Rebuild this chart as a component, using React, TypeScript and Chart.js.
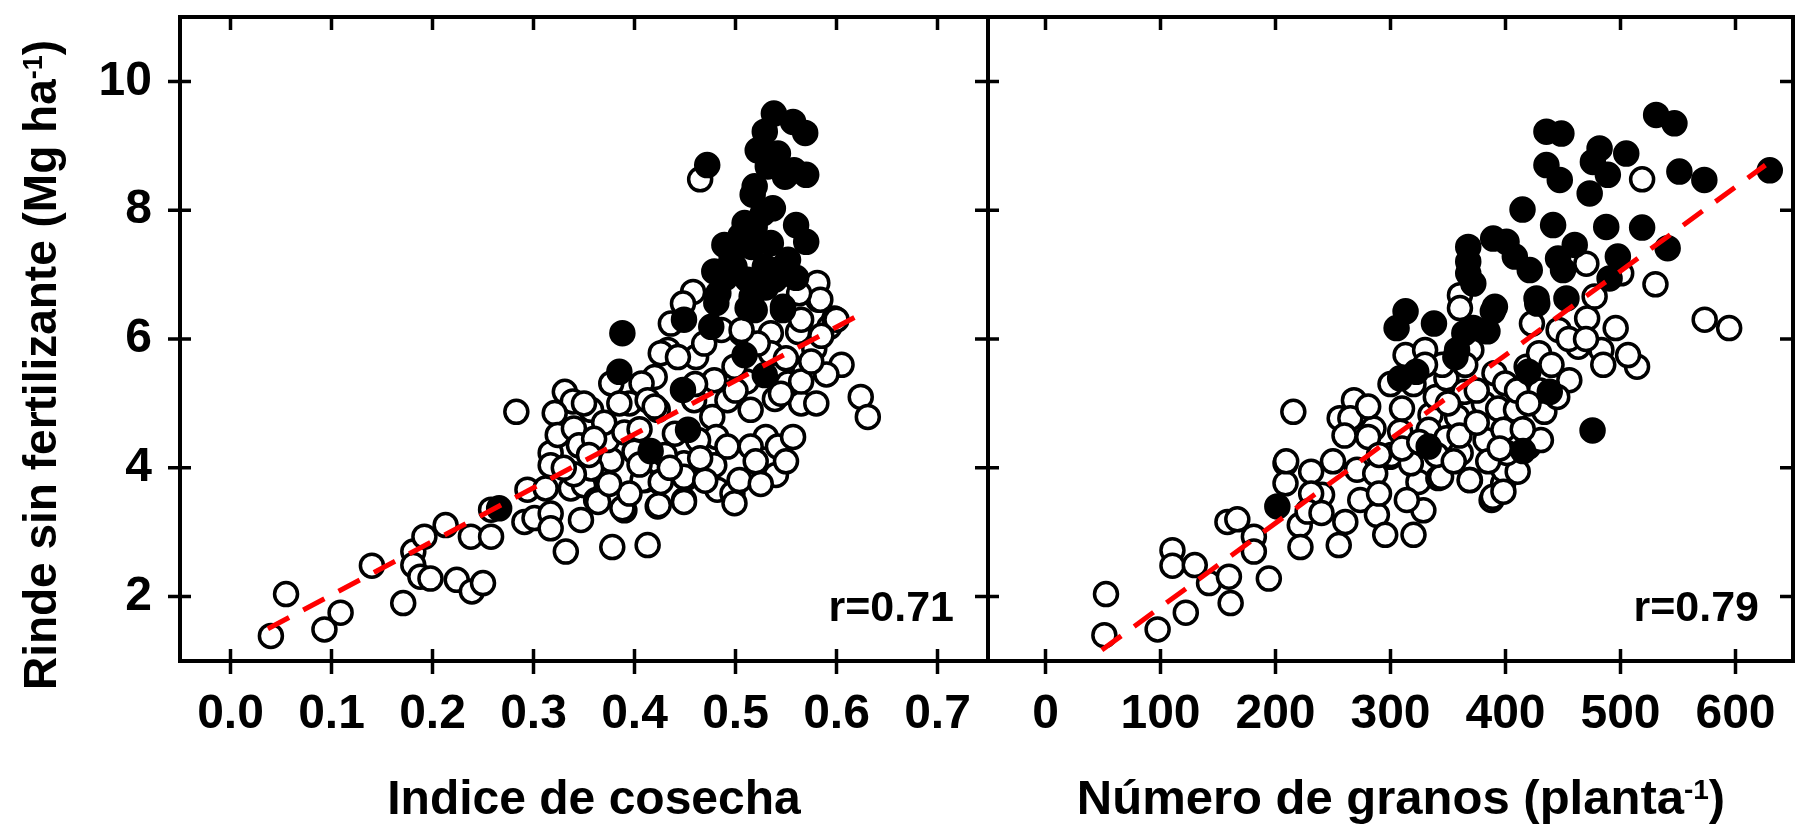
import React, { useEffect, useRef } from 'react';
import { Chart, registerables } from 'chart.js';

Chart.register(...registerables);

const FONT = '"Liberation Sans", Arial, Helvetica, sans-serif';

// ---- tick values ----
const yTicks = [2, 4, 6, 8, 10];
const ihTicks = [0, 0.1, 0.2, 0.3, 0.4, 0.5, 0.6, 0.7];
const ngTicks = [0, 100, 200, 300, 400, 500, 600];

// ---- labels ----
const yTitleMain = 'Rinde sin fertilizante (Mg ha';
const ihTitle = 'Indice de cosecha';
const ngTitleMain = 'Número de granos (planta';
const supText = '-1';
const ihR = 'r=0.71';
const ngR = 'r=0.79';

// ---- Indice de cosecha panel: open circles [x, y] ----
const ihOpen: number[][] = [
  [0.040, 1.39], [0.055, 2.04], [0.093, 1.49], [0.109, 1.75], [0.140, 2.48], [0.171, 1.90],
  [0.181, 2.70], [0.192, 2.93], [0.181, 2.49], [0.188, 2.31], [0.198, 2.28], [0.213, 3.11],
  [0.224, 2.26], [0.239, 2.08], [0.250, 2.21], [0.238, 2.93], [0.258, 2.93], [0.258, 3.35],
  [0.291, 3.16], [0.294, 3.66], [0.301, 3.22], [0.312, 3.68], [0.317, 3.29], [0.317, 3.06],
  [0.317, 4.23], [0.317, 4.04], [0.332, 2.70], [0.337, 3.68], [0.347, 3.19], [0.350, 3.73],
  [0.362, 3.50], [0.364, 3.97], [0.378, 2.77], [0.377, 4.12], [0.390, 3.34], [0.410, 3.81],
  [0.413, 2.80], [0.423, 3.40], [0.425, 3.78], [0.449, 3.50], [0.451, 3.84],
  [0.283, 4.87], [0.331, 5.18], [0.339, 5.03], [0.321, 4.85], [0.324, 4.51], [0.340, 4.61],
  [0.357, 4.90], [0.373, 4.43], [0.377, 5.31], [0.395, 5.00], [0.357, 3.99], [0.364, 3.47],
  [0.388, 3.37], [0.408, 3.81], [0.426, 3.78], [0.420, 5.41], [0.423, 4.90], [0.433, 5.83],
  [0.436, 6.24], [0.461, 5.72], [0.479, 5.36], [0.477, 4.79], [0.481, 4.48], [0.449, 4.07],
  [0.449, 3.86], [0.449, 3.47], [0.424, 3.42], [0.479, 4.04], [0.482, 3.66], [0.497, 3.60],
  [0.499, 3.45], [0.504, 3.81], [0.506, 6.09], [0.515, 4.90], [0.511, 5.34], [0.530, 4.48],
  [0.540, 3.89], [0.542, 4.33], [0.552, 5.31], [0.557, 4.48], [0.565, 5.00], [0.568, 5.49],
  [0.578, 5.85], [0.593, 6.19], [0.598, 6.32], [0.605, 5.60], [0.624, 5.10], [0.631, 4.79],
  [0.535, 6.09], [0.562, 6.11], [0.582, 6.61], [0.426, 5.78], [0.443, 5.72], [0.407, 5.31],
  [0.413, 5.05], [0.440, 4.53], [0.463, 4.43], [0.492, 4.33], [0.515, 4.33], [0.459, 5.05],
  [0.492, 5.05], [0.539, 5.07], [0.499, 5.57], [0.565, 5.34], [0.535, 5.78], [0.522, 5.93],
  [0.469, 5.93], [0.486, 6.14], [0.458, 6.73], [0.448, 6.55], [0.581, 6.87], [0.584, 6.61],
  [0.563, 6.71], [0.600, 6.30], [0.565, 6.30], [0.506, 6.14], [0.465, 8.48],
  [0.345, 4.35], [0.370, 4.70], [0.390, 4.55], [0.400, 4.25], [0.360, 4.45], [0.385, 5.00],
  [0.405, 4.60], [0.350, 5.00], [0.395, 3.60], [0.340, 3.90], [0.430, 4.20], [0.470, 3.80],
  [0.520, 4.10], [0.550, 4.10], [0.580, 5.00], [0.590, 5.45], [0.550, 5.70], [0.500, 5.20],
  [0.460, 5.30], [0.420, 4.95], [0.330, 4.00], [0.355, 4.20], [0.375, 3.75], [0.405, 4.05],
  [0.435, 4.00], [0.465, 4.15], [0.525, 3.75], [0.545, 5.15], [0.575, 5.65], [0.585, 6.05],
];

// ---- Indice de cosecha panel: filled circles [x, y] ----
const ihFilled: number[][] = [
  [0.266, 3.37], [0.416, 4.26], [0.388, 6.09], [0.385, 5.49], [0.449, 6.30], [0.476, 6.19],
  [0.512, 6.48], [0.547, 6.45], [0.509, 5.75], [0.529, 5.44], [0.448, 5.21], [0.453, 4.59],
  [0.481, 6.56], [0.538, 9.50], [0.557, 9.37], [0.569, 9.20], [0.529, 9.22], [0.522, 8.93],
  [0.542, 8.88], [0.558, 8.62], [0.570, 8.55], [0.549, 8.52], [0.532, 8.68], [0.472, 8.70],
  [0.519, 8.37], [0.517, 8.24], [0.537, 8.03], [0.560, 7.77], [0.570, 7.51], [0.509, 7.80],
  [0.519, 7.74], [0.489, 7.46], [0.499, 7.43], [0.516, 7.43], [0.535, 7.49], [0.552, 7.23],
  [0.479, 7.05], [0.499, 7.12], [0.529, 7.12], [0.512, 6.92], [0.539, 6.92], [0.483, 6.71],
  [0.516, 6.66], [0.547, 6.50], [0.519, 6.45], [0.496, 7.23], [0.505, 7.60], [0.527, 7.95],
  [0.545, 7.10], [0.490, 6.95], [0.530, 6.80], [0.560, 6.95],
];

// ---- Número de granos panel: open circles [x, y] ----
const ngOpen: number[][] = [
  [51.2, 1.40], [52.6, 2.04], [97.5, 1.49], [122, 1.75], [110.4, 2.72], [110.4, 2.48],
  [129.8, 2.49], [142.2, 2.21], [159.5, 2.31], [161, 1.90], [158.2, 3.16], [166.8, 3.20],
  [181.2, 2.93], [181.2, 2.70], [194.2, 2.28], [208.7, 4.07], [208.7, 3.76], [221.1, 3.11],
  [221.7, 2.77], [231, 3.94], [230.4, 3.34], [240.5, 3.58], [255, 2.80], [260.7, 3.16],
  [270.9, 3.97], [273.7, 3.50], [288.2, 3.27], [295.4, 2.96], [320, 2.96], [328.6, 3.34],
  [324.3, 3.78], [314.2, 3.50], [299.7, 4.17], [341.6, 3.84], [369.1, 3.81], [387.9, 3.50],
  [398, 3.76], [215.5, 4.87], [268.2, 5.05], [255.8, 4.77], [265.1, 4.77], [209.3, 4.10],
  [231, 3.60], [227.9, 3.32], [286.7, 3.91], [285.2, 4.61], [280.6, 4.48], [280.6, 4.95],
  [300.7, 4.20], [308.4, 4.56], [310, 4.92], [313.1, 5.75], [330.1, 5.83], [317.7, 4.07],
  [334.8, 4.82], [333.2, 4.59], [339.4, 5.10], [348.6, 5.39], [348.6, 4.46], [344, 3.86],
  [357.9, 4.79], [361, 4.23], [368.8, 3.81], [381.2, 5.00], [382.7, 4.43], [390.4, 5.47],
  [393.6, 4.92], [398.2, 4.59], [399.8, 5.31], [398.2, 3.97], [389, 3.55], [398.2, 3.63],
  [409.1, 4.90], [410.6, 3.94], [419.9, 4.33], [430.8, 4.43], [433.8, 4.87], [423, 6.24],
  [446.2, 6.14], [455.5, 5.36], [471, 6.32], [463.3, 5.88], [483.4, 5.83], [485, 5.60],
  [495.8, 6.17], [514.4, 5.57], [506.6, 5.75], [573.2, 6.30], [418.4, 5.57], [429.2, 5.78],
  [370.3, 5.83], [364.2, 5.18], [401.3, 4.23], [518.8, 8.48], [470.3, 7.17], [500.6, 7.02],
  [530.4, 6.85], [594.5, 6.17], [360.4, 6.68], [360.4, 6.48], [477.5, 6.66],
  [300, 5.30], [320, 5.30], [350, 5.00], [375, 5.20], [360, 4.50], [340, 4.20], [310, 4.30],
  [290, 4.20], [385, 4.10], [415, 4.60], [430, 5.20], [440, 5.60], [455, 6.00], [365, 5.60],
  [345, 5.60], [410, 5.20], [250, 4.10], [240, 3.30], [260, 4.50], [325, 4.40], [355, 4.10],
  [375, 4.70], [395, 4.30], [420, 5.00], [445, 5.10], [470, 6.00], [330, 5.60], [290, 3.60],
];

// ---- Número de granos panel: filled circles [x, y] ----
const ngFilled: number[][] = [
  [475.7, 4.58], [415.3, 4.26], [333.2, 4.33], [201.6, 3.40], [356.4, 5.72], [308.4, 5.39],
  [322.4, 5.49], [357.9, 5.83], [419.9, 5.49], [438.5, 5.18], [305.3, 6.17], [313.1, 6.43],
  [337.8, 6.24], [364.2, 6.09], [389, 6.43], [384.3, 6.12], [427.6, 6.55], [531, 9.48],
  [546.9, 9.35], [435.6, 9.22], [448.6, 9.19], [481.8, 8.96], [505, 8.88], [476, 8.75],
  [489, 8.55], [435.6, 8.70], [447.2, 8.47], [473.2, 8.26], [551.2, 8.60], [572.9, 8.47],
  [629.8, 8.62], [414.8, 8.01], [441.4, 7.77], [487.6, 7.74], [518.8, 7.73], [541, 7.41],
  [367.6, 7.43], [389.3, 7.56], [400.9, 7.51], [408.1, 7.28], [460.2, 7.46], [445.7, 7.25],
  [497.7, 7.28], [367.6, 7.20], [367.6, 7.02], [372, 6.86], [421.1, 7.07], [450, 7.07],
  [490.5, 6.94], [427, 6.63], [453, 6.63], [390.8, 6.50], [372, 6.17],
];

// ---- regression lines (end points) ----
const ihLine: number[][] = [[0.037, 1.50], [0.627, 6.41]];
const ngLine: number[][] = [[49, 1.17], [626, 8.70]];

const toXY = (arr: number[][]) => arr.map(([x, y]) => ({ x, y }));

type PanelCfg = {
  xMin: number;
  xMax: number;
  xTicks: number[];
  fmt: (v: number) => string;
  open: number[][];
  filled: number[][];
  line: number[][];
  isLeft: boolean;
  rText: string;
};

function drawRich(
  ctx: CanvasRenderingContext2D,
  parts: { t: string; size: number; dy: number }[],
  cx: number,
  baseY: number
) {
  let total = 0;
  for (const p of parts) {
    ctx.font = `bold ${p.size}px ${FONT}`;
    total += ctx.measureText(p.t).width;
  }
  let x = cx - total / 2;
  ctx.textAlign = 'left';
  ctx.textBaseline = 'alphabetic';
  for (const p of parts) {
    ctx.font = `bold ${p.size}px ${FONT}`;
    ctx.fillText(p.t, x, baseY + p.dy);
    x += ctx.measureText(p.t).width;
  }
}

function makePlugin(cfg: PanelCfg) {
  return {
    id: 'frameAndText',
    afterDraw(chart: any) {
      const ctx: CanvasRenderingContext2D = chart.ctx;
      const { left, right, top, bottom } = chart.chartArea;
      const xs = chart.scales.x;
      const ys = chart.scales.y;
      ctx.save();
      ctx.strokeStyle = '#000';
      ctx.fillStyle = '#000';
      ctx.lineWidth = 4;
      ctx.lineCap = 'butt';
      ctx.strokeRect(left, top, right - left, bottom - top);
      ctx.lineWidth = 3.5;
      ctx.beginPath();
      for (const v of cfg.xTicks) {
        const px = xs.getPixelForValue(v);
        ctx.moveTo(px, bottom - 12);
        ctx.lineTo(px, bottom + 13);
        ctx.moveTo(px, top);
        ctx.lineTo(px, top + 13);
      }
      for (const v of yTicks) {
        const py = ys.getPixelForValue(v);
        if (cfg.isLeft) {
          ctx.moveTo(left - 12, py);
          ctx.lineTo(left + 11, py);
        } else {
          ctx.moveTo(left, py);
          ctx.lineTo(left + 11, py);
        }
        ctx.moveTo(right - 13, py);
        ctx.lineTo(right, py);
      }
      ctx.stroke();

      // r label
      ctx.font = `bold 43px ${FONT}`;
      ctx.textAlign = 'right';
      ctx.textBaseline = 'alphabetic';
      ctx.fillText(cfg.rText, right - 34, 621);

      // axis titles
      if (cfg.isLeft) {
        drawRich(ctx, [{ t: ihTitle, size: 48, dy: 0 }], 594, 814);
        ctx.save();
        ctx.translate(40, 365);
        ctx.rotate(-Math.PI / 2);
        drawRich(
          ctx,
          [
            { t: yTitleMain, size: 46, dy: 0 },
            { t: supText, size: 27, dy: -14 },
            { t: ')', size: 46, dy: 0 },
          ],
          0,
          16
        );
        ctx.restore();
      } else {
        drawRich(
          ctx,
          [
            { t: ngTitleMain, size: 49, dy: 0 },
            { t: supText, size: 28, dy: -15 },
            { t: ')', size: 49, dy: 0 },
          ],
          1401 - 982,
          814
        );
      }
      ctx.restore();
    },
  };
}

const zeroPad = (s: any) => {
  s.paddingTop = 0;
  s.paddingBottom = 0;
  s.paddingLeft = 0;
  s.paddingRight = 0;
};

function Panel({ cfg, left, width }: { cfg: PanelCfg; left: number; width: number }) {
  const ref = useRef<HTMLCanvasElement | null>(null);
  useEffect(() => {
    if (!ref.current) return;
    const chart = new Chart(ref.current, {
      type: 'scatter',
      data: {
        datasets: [
          {
            type: 'line',
            data: toXY(cfg.line),
            borderColor: '#ff0000',
            borderWidth: 5,
            borderDash: [24, 16],
            pointRadius: 0,
            fill: false,
          } as any,
          {
            data: toXY(cfg.filled),
            backgroundColor: '#000',
            borderColor: '#000',
            borderWidth: 3.5,
            pointRadius: 11.5,
          },
          {
            data: toXY(cfg.open),
            backgroundColor: '#fff',
            borderColor: '#000',
            borderWidth: 3.5,
            pointRadius: 11.5,
          },
        ],
      },
      options: {
        animation: false,
        responsive: false,
        devicePixelRatio: 1,
        events: [],
        layout: {
          autoPadding: false,
          padding: cfg.isLeft
            ? { left: 0, right: 6, top: 17, bottom: 0 }
            : { left: 6, right: 7, top: 17, bottom: 0 },
        },
        plugins: { legend: { display: false }, tooltip: { enabled: false } },
        scales: {
          x: {
            type: 'linear',
            min: cfg.xMin,
            max: cfg.xMax,
            grid: { display: false, drawTicks: false },
            border: { display: false },
            afterBuildTicks: (s: any) => {
              s.ticks = cfg.xTicks.map((v) => ({ value: v }));
            },
            afterFit: (s: any) => {
              s.height = 168;
              zeroPad(s);
            },
            ticks: {
              padding: 25,
              color: '#000',
              font: { family: FONT, size: 48, weight: 'bold' },
              callback: (v: any) => cfg.fmt(Number(v)),
              maxRotation: 0,
              autoSkip: false,
            },
          },
          y: {
            type: 'linear',
            min: 1,
            max: 11,
            grid: { display: false, drawTicks: false },
            border: { display: false },
            afterBuildTicks: (s: any) => {
              s.ticks = yTicks.map((v) => ({ value: v }));
            },
            afterFit: (s: any) => {
              s.width = cfg.isLeft ? 180 : 0;
              zeroPad(s);
            },
            ticks: {
              display: cfg.isLeft,
              padding: 28,
              color: '#000',
              font: { family: FONT, size: 48, weight: 'bold' },
              callback: (v: any) => String(v),
            },
          },
        },
      },
      plugins: [makePlugin(cfg)],
    } as any);
    return () => chart.destroy();
  }, [cfg]);
  return (
    <canvas
      ref={ref}
      width={width}
      height={829}
      style={{ position: 'absolute', left, top: 0, width, height: 829 }}
    />
  );
}

const leftCfg: PanelCfg = {
  xMin: -0.05,
  xMax: 0.75,
  xTicks: ihTicks,
  fmt: (v) => v.toFixed(1),
  open: ihOpen,
  filled: ihFilled,
  line: ihLine,
  isLeft: true,
  rText: ihR,
};

const rightCfg: PanelCfg = {
  xMin: -50,
  xMax: 650,
  xTicks: ngTicks,
  fmt: (v) => String(Math.round(v)),
  open: ngOpen,
  filled: ngFilled,
  line: ngLine,
  isLeft: false,
  rText: ngR,
};

export default function App() {
  useEffect(() => {
    document.body.style.margin = '0';
  }, []);
  return (
    <div style={{ position: 'absolute', left: 0, top: 0, width: 1800, height: 829, background: '#fff', overflow: 'hidden' }}>
      <Panel cfg={leftCfg} left={0} width={994} />
      <Panel cfg={rightCfg} left={982} width={818} />
    </div>
  );
}
